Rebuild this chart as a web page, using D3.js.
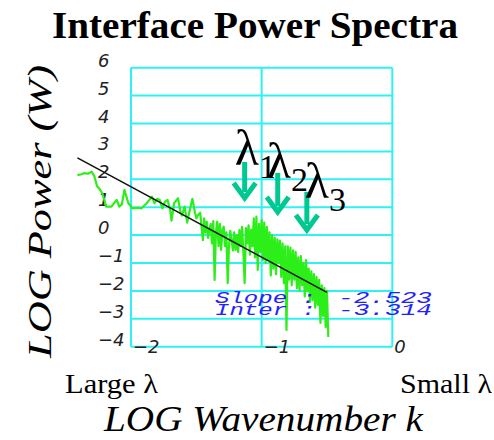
<!DOCTYPE html>
<html>
<head>
<meta charset="utf-8">
<script src="https://cdn.jsdelivr.net/npm/d3@7"></script>
<style>
  html, body { margin: 0; padding: 0; background: #fff; }
  svg { display: block; }
</style>
</head>
<body>
<svg id="chart" width="494" height="440"></svg>
<script>
// ---- data ----
const xTicks = [-2, -1, 0];
const yTicks = [-4, -3, -2, -1, 0, 1, 2, 3, 4, 5, 6];

// measured interface spectrum: log wavenumber vs log power
const logK = [
  -2.41, -2.38, -2.36, -2.33, -2.30, -2.28, -2.26, -2.24, -2.22, -2.20,
  -2.19, -2.15, -2.11, -2.09, -2.07, -2.05, -2.02, -1.99, -1.95, -1.92,
  -1.90, -1.88, -1.84, -1.82, -1.80, -1.78, -1.76, -1.74, -1.72, -1.70,
  -1.69, -1.67, -1.64, -1.62, -1.61, -1.59, -1.57, -1.55, -1.53, -1.51,
  -1.50, -1.49, -1.47, -1.46, -1.45, -1.44, -1.43, -1.42, -1.41, -1.40,
  -1.39, -1.38, -1.37, -1.36, -1.35, -1.34, -1.33, -1.32, -1.31, -1.30,
  -1.29, -1.28, -1.27, -1.26, -1.25, -1.24, -1.23, -1.22, -1.21, -1.20,
  -1.19, -1.18, -1.17, -1.16, -1.15, -1.14, -1.13, -1.12, -1.11, -1.10,
  -1.09, -1.08, -1.07, -1.06, -1.05, -1.04, -1.03, -1.02, -1.01, -1.00,
  -0.99, -0.98, -0.97, -0.96, -0.95, -0.94, -0.93, -0.92, -0.91, -0.90,
  -0.89, -0.88, -0.87, -0.86, -0.85, -0.84, -0.83, -0.82, -0.81, -0.80,
  -0.79, -0.78, -0.77, -0.76, -0.75, -0.74, -0.73, -0.72, -0.71, -0.70,
  -0.69, -0.68, -0.67, -0.66, -0.65, -0.64, -0.63, -0.62, -0.61, -0.60,
  -0.59, -0.58, -0.57, -0.56, -0.55, -0.54, -0.53, -0.52, -0.51, -0.50,
  -0.49
];
const logPower = [
   2.15,  2.18,  2.22,  2.20,  2.27,  2.10,  1.75,  1.65,  1.50,  1.20,
   1.02,  1.02,  1.26,  1.02,  1.10,  1.62,  1.14,  0.96,  0.98,  0.96,
   1.05,  1.14,  1.38,  1.14,  1.30,  1.26,  0.96,  1.20,  1.26,  0.90,
   0.52,  1.14,  1.32,  0.80,  0.70,  1.02,  0.45,  0.90,  1.30,  0.80,
   0.60,  0.70,  0.80,  0.30, -0.18,  0.60,  0.10,  0.48, -0.10,  0.20,
   0.40, -0.30,  0.50, -1.61,  0.10,  0.48, -0.40,  0.40, -0.53,  0.20,
   0.30, -0.40,  0.10, -1.72, -0.40,  0.15, -0.18, -0.55,  0.10, -0.53,
   0.00, -0.60,  0.18, -0.40,  0.30, -0.60, -1.72,  0.25, -0.30,  0.35,
  -0.70,  0.20, -0.40,  0.60, -0.80,  0.66, -1.25,  0.40, -0.60,  0.54,
  -0.89,  0.45, -1.00,  0.30, -0.90,  0.10, -1.45,  0.00, -1.20, -0.10,
  -1.40, -0.15, -1.00, -0.20, -1.50, -0.30, -1.72, -0.40, -3.40, -0.40,
  -1.60, -0.45, -1.80, -0.55, -1.60, -0.60, -1.90, -0.80, -2.00, -0.75,
  -1.80, -1.00, -2.20, -0.90, -2.00, -1.20, -2.40, -1.30, -2.33, -1.40,
  -2.60, -1.50, -2.50, -1.60, -3.15, -1.80, -2.90, -1.90, -3.30, -2.00,
  -3.65
];

// least-squares fit reported on the plot
const fitSlope = -2.523;
const fitIntercept = -3.314;
const fitRange = [-2.41, -0.50];

// characteristic wavelengths marked above the spectrum
const lambdaSub = ["1", "2", "3"];
const lambdaK = [-1.13, -0.877, -0.654];
const lambdaArrowTop = [2.62, 2.23, 1.55];
const lambdaArrowTip = [1.33, 0.83, 0.18];

// ---- layout ----
const svg = d3.select("#chart");
const plotLeft = 131, plotRight = 392.3, plotTop = 67.7, plotBottom = 346.7;

const x = d3.scaleLinear().domain([-2, 0]).range([plotLeft, plotRight]);
const y = d3.scaleLinear().domain([-4, 6]).range([plotBottom, plotTop]);

const cyan = "#2ef2f2";
const tickFont = "'DejaVu Sans', sans-serif";
const serif = "'Liberation Serif', 'Times New Roman', serif";

// grid (horizontal)
svg.append("g")
  .selectAll("line")
  .data(yTicks)
  .join("line")
  .attr("x1", plotLeft).attr("x2", plotRight)
  .attr("y1", d => y(d)).attr("y2", d => y(d))
  .attr("stroke", cyan).attr("stroke-width", 2);

// grid (vertical)
svg.append("g")
  .selectAll("line")
  .data(xTicks)
  .join("line")
  .attr("x1", d => x(d)).attr("x2", d => x(d))
  .attr("y1", plotTop).attr("y2", plotBottom)
  .attr("stroke", cyan).attr("stroke-width", 2);

// y tick labels
const fmt = d3.format("d");
svg.append("g")
  .selectAll("text")
  .data(yTicks)
  .join("text")
  .attr("x", 98)
  .attr("y", d => y(d) - 1)
  .attr("font-family", tickFont)
  .attr("font-style", "italic")
  .attr("font-size", 18)
  .attr("fill", "#222")
  .text(d => fmt(d));

// x tick labels
svg.append("g")
  .selectAll("text")
  .data(xTicks)
  .join("text")
  .attr("x", d => x(d) + 2)
  .attr("y", plotBottom + 6)
  .attr("font-family", tickFont)
  .attr("font-style", "italic")
  .attr("font-size", 18)
  .attr("fill", "#222")
  .text(d => fmt(d));

// spectrum
const spectrum = logK.map((k, i) => [k, logPower[i]]);
svg.append("path")
  .datum(spectrum)
  .attr("fill", "none")
  .attr("stroke", "#2cee18")
  .attr("stroke-width", 2.2)
  .attr("stroke-linejoin", "round")
  .attr("d", d3.line().x(d => x(d[0])).y(d => y(d[1])));

// fitted power law
svg.append("path")
  .datum(fitRange.map(k => [k, fitIntercept + fitSlope * k]))
  .attr("fill", "none")
  .attr("stroke", "#111")
  .attr("stroke-width", 1.6)
  .attr("d", d3.line().x(d => x(d[0])).y(d => y(d[1])));

// fit parameters
const blue = "#2222ff";
const monoFont = "'Liberation Mono', 'DejaVu Sans Mono', monospace";
const fitRows = [
  { name: "Slope :", value: fitSlope.toFixed(3) },
  { name: "Inter :", value: fitIntercept.toFixed(3) }
];
const rows = svg.append("g")
  .selectAll("g")
  .data(fitRows)
  .join("g")
  .attr("transform", (d, i) => `translate(0, ${303 + i * 12})`);
rows.append("text")
  .attr("x", 215)
  .attr("font-family", monoFont)
  .attr("font-style", "italic")
  .attr("font-size", 16)
  .attr("fill", blue)
  .attr("textLength", 101)
  .attr("lengthAdjust", "spacingAndGlyphs")
  .text(d => d.name);
rows.append("text")
  .attr("x", 338)
  .attr("font-family", monoFont)
  .attr("font-style", "italic")
  .attr("font-size", 16)
  .attr("fill", blue)
  .attr("textLength", 94)
  .attr("lengthAdjust", "spacingAndGlyphs")
  .text(d => d.value);

// wavelength markers
const teal = "#00c891";
const labelShift = [[-10, 3], [-11, 5], [-2, 6]];
const marks = lambdaSub.map((s, i) => ({
  sub: s, k: lambdaK[i], y0: lambdaArrowTop[i], y1: lambdaArrowTip[i],
  dx: labelShift[i][0], dy: labelShift[i][1]
}));
const mg = svg.append("g")
  .selectAll("g")
  .data(marks)
  .join("g");
mg.append("line")
  .attr("x1", d => x(d.k)).attr("x2", d => x(d.k))
  .attr("y1", d => y(d.y0)).attr("y2", d => y(d.y1) - 6)
  .attr("stroke", teal).attr("stroke-width", 5);
mg.append("path")
  .attr("d", d => {
    const cx = x(d.k), ty = y(d.y1);
    return `M${cx - 11},${ty - 15} L${cx},${ty} L${cx + 11},${ty - 15}`;
  })
  .attr("fill", "none")
  .attr("stroke", teal)
  .attr("stroke-width", 5)
  .attr("stroke-linejoin", "miter");
const lt = mg.append("text")
  .attr("x", d => x(d.k) + d.dx)
  .attr("y", d => y(d.y0) + d.dy)
  .attr("font-family", serif)
  .attr("font-size", 50)
  .attr("fill", "#000");
lt.append("tspan").text("λ");
lt.append("tspan")
  .attr("font-size", 34)
  .attr("dy", 13)
  .text(d => d.sub);

// titles
svg.append("text")
  .attr("x", 52).attr("y", 38)
  .attr("font-family", serif)
  .attr("font-weight", "bold")
  .attr("font-size", 38)
  .attr("textLength", 406)
  .attr("lengthAdjust", "spacingAndGlyphs")
  .text("Interface Power Spectra");

svg.append("text")
  .attr("transform", "translate(51, 358) rotate(-90)")
  .attr("font-family", serif)
  .attr("font-style", "italic")
  .attr("font-size", 34)
  .attr("textLength", 293)
  .attr("lengthAdjust", "spacingAndGlyphs")
  .text("LOG Power (W)");

svg.append("text")
  .attr("x", 65).attr("y", 393)
  .attr("font-family", serif)
  .attr("font-size", 27)
  .attr("textLength", 93)
  .attr("lengthAdjust", "spacingAndGlyphs")
  .text("Large λ");

svg.append("text")
  .attr("x", 400).attr("y", 393)
  .attr("font-family", serif)
  .attr("font-size", 27)
  .attr("textLength", 92)
  .attr("lengthAdjust", "spacingAndGlyphs")
  .text("Small λ");

svg.append("text")
  .attr("x", 104).attr("y", 431)
  .attr("font-family", serif)
  .attr("font-style", "italic")
  .attr("font-size", 36)
  .attr("textLength", 319)
  .attr("lengthAdjust", "spacingAndGlyphs")
  .text("LOG Wavenumber k");
</script>
</body>
</html>
